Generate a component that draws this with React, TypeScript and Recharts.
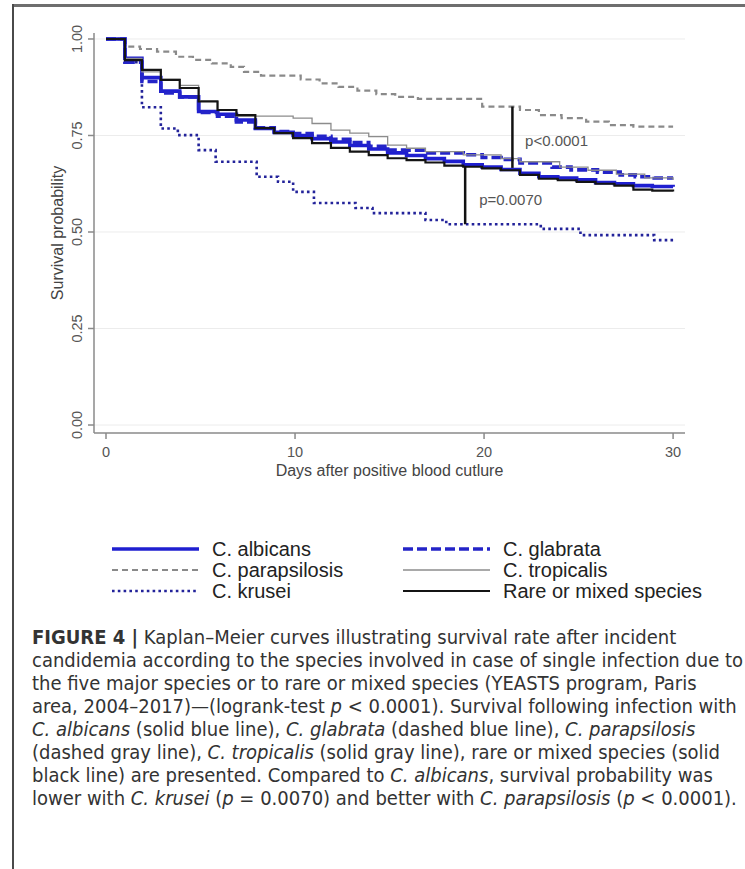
import { LineChart, Line, XAxis, YAxis, CartesianGrid, ReferenceLine, ReferenceDot, Label } from 'recharts';

// Kaplan-Meier steps: [day, survival after the step]
const albicans: [number, number][] = [
  [0, 1], [1, 0.95], [1.9, 0.9], [2.9, 0.865], [3.9, 0.85], [4.9, 0.812], [5.9, 0.805], [6.9, 0.79],
  [7.9, 0.768], [8.9, 0.758], [9.9, 0.75], [10.9, 0.742], [11.9, 0.733], [12.9, 0.724], [13.9, 0.715],
  [14.9, 0.705], [15.9, 0.698], [16.9, 0.69], [17.9, 0.683], [18.9, 0.674], [19.9, 0.668], [20.9, 0.662],
  [21.9, 0.652], [22.9, 0.643], [23.9, 0.64], [24.9, 0.635], [25.9, 0.628], [26.9, 0.625], [27.9, 0.62],
  [28.9, 0.618], [30, 0.617],
];
const glabrata: [number, number][] = [
  [0, 1], [1, 0.94], [1.9, 0.89], [2.9, 0.86], [3.9, 0.85], [4.9, 0.81], [5.9, 0.8], [6.9, 0.785],
  [7.9, 0.77], [8.9, 0.76], [9.9, 0.755], [10.9, 0.748], [11.9, 0.74], [12.9, 0.732], [13.9, 0.722],
  [14.9, 0.712], [16.9, 0.705], [18.9, 0.7], [19.9, 0.693], [20.9, 0.688], [21.9, 0.679], [23.6, 0.668],
  [24.6, 0.661], [26, 0.655], [27.2, 0.648], [28, 0.643], [29, 0.64], [30, 0.64],
];
const parapsilosis: [number, number][] = [
  [0, 1], [1, 0.98], [1.8, 0.974], [2.7, 0.967], [3.7, 0.954], [4.6, 0.946], [5.6, 0.937], [6.6, 0.928],
  [7.3, 0.915], [8.2, 0.905], [10.3, 0.895], [11.3, 0.885], [12.3, 0.876], [13.3, 0.866], [14.3, 0.857],
  [15.3, 0.85], [16.5, 0.845], [19.9, 0.825], [21.9, 0.816], [22.9, 0.803], [24.1, 0.795], [25.4, 0.786],
  [26.6, 0.777], [27.9, 0.773], [30, 0.773],
];
const tropicalis: [number, number][] = [
  [0, 1], [1, 0.95], [1.9, 0.915], [2.9, 0.895], [3.9, 0.88], [4.9, 0.84], [5.9, 0.815], [6.9, 0.8],
  [9.9, 0.795], [10.9, 0.781], [11.9, 0.764], [12.9, 0.756], [13.9, 0.747], [14.9, 0.725], [15.9, 0.717],
  [16.9, 0.708], [18.9, 0.7], [20.9, 0.69], [21.9, 0.682], [24, 0.668], [25.5, 0.66], [27, 0.65],
  [28.5, 0.64], [30, 0.635],
];
const krusei: [number, number][] = [
  [0, 1], [1, 0.94], [1.9, 0.823], [2.9, 0.768], [3.8, 0.751], [4.9, 0.712], [5.8, 0.682], [7.97, 0.643],
  [9.1, 0.63], [9.9, 0.604], [11, 0.575], [13.2, 0.562], [14.1, 0.549], [16.9, 0.531], [18, 0.52],
  [23, 0.508], [25.1, 0.492], [29, 0.479], [30, 0.479],
];
const rare: [number, number][] = [
  [0, 1], [1, 0.945], [1.9, 0.92], [2.9, 0.894], [3.9, 0.873], [4.9, 0.838], [5.9, 0.816], [6.9, 0.803],
  [7.9, 0.769], [8.9, 0.756], [9.9, 0.743], [10.9, 0.73], [11.9, 0.718], [12.9, 0.708], [13.9, 0.699],
  [14.9, 0.691], [15.9, 0.686], [16.9, 0.68], [17.9, 0.672], [18.9, 0.669], [19.9, 0.665], [20.9, 0.66],
  [21.9, 0.648], [22.9, 0.638], [23.9, 0.634], [24.9, 0.63], [25.9, 0.625], [26.9, 0.62], [27.9, 0.61],
  [28.9, 0.607], [30, 0.605],
];

const xTicks = [0, 10, 20, 30];
const yTicks = [0, 0.25, 0.5, 0.75, 1];

const pts = (arr: [number, number][]) => arr.map(([t, s]) => ({ t, s }));

const series = [
  { name: 'C. parapsilosis', data: parapsilosis, stroke: '#8a8a8a', width: 2.2, dash: '6 4' },
  { name: 'C. krusei', data: krusei, stroke: '#23239a', width: 2.6, dash: '2.6 3.2' },
  { name: 'C. albicans', data: albicans, stroke: '#1f1fd0', width: 3.6, dash: undefined },
  { name: 'C. glabrata', data: glabrata, stroke: '#2424c8', width: 3.6, dash: '10 4' },
  { name: 'C. tropicalis', data: tropicalis, stroke: '#8c8c8c', width: 1.3, dash: undefined },
  { name: 'Rare or mixed species', data: rare, stroke: '#141414', width: 2.2, dash: undefined },
];

const legendRows = [
  ['C. albicans', 'C. glabrata'],
  ['C. parapsilosis', 'C. tropicalis'],
  ['C. krusei', 'Rare or mixed species'],
];

const font = 'Arial, "Liberation Sans", Helvetica, sans-serif';

const YTick = (props: any) => {
  const { x, y, payload } = props;
  return (
    <text transform={`translate(${x - 9}, ${y}) rotate(-90)`} textAnchor='middle' dominantBaseline='central'
      fontSize={14.5} fill='#555' fontFamily={font}>
      {payload.value.toFixed(2)}
    </text>
  );
};

const XTick = (props: any) => {
  const { x, y, payload } = props;
  return (
    <text x={x} y={y + 11} textAnchor='middle' dominantBaseline='central' fontSize={14.5} fill='#555' fontFamily={font}>
      {payload.value}
    </text>
  );
};

const Sample = ({ s }: { s: (typeof series)[number] }) => (
  <svg width={87} height={10} style={{ display: 'block' }}>
    <line x1={0} y1={5} x2={87} y2={5} stroke={s.stroke} strokeWidth={s.width} strokeDasharray={s.dash} />
  </svg>
);

const Caption = () => {
  const lineStyle: React.CSSProperties = { whiteSpace: 'nowrap', height: 23, lineHeight: '23px' };
  return (
    <div style={{ position: 'absolute', left: 32, top: 626, fontFamily: '"Liberation Sans Narrow", "DejaVu Sans Condensed", Arial, sans-serif', fontSize: 20, color: '#333' }}>
      <div style={lineStyle}><b>FIGURE 4 |</b> Kaplan–Meier curves illustrating survival rate after incident</div>
      <div style={lineStyle}>candidemia according to the species involved in case of single infection due to</div>
      <div style={lineStyle}>the five major species or to rare or mixed species (YEASTS program, Paris</div>
      <div style={lineStyle}>area, 2004–2017)—(logrank-test <i>p</i> &lt; 0.0001). Survival following infection with</div>
      <div style={lineStyle}><i>C. albicans</i> (solid blue line), <i>C. glabrata</i> (dashed blue line), <i>C. parapsilosis</i></div>
      <div style={lineStyle}>(dashed gray line), <i>C. tropicalis</i> (solid gray line), rare or mixed species (solid</div>
      <div style={lineStyle}>black line) are presented. Compared to <i>C. albicans</i>, survival probability was</div>
      <div style={lineStyle}>lower with <i>C. krusei</i> (<i>p</i> = 0.0070) and better with <i>C. parapsilosis</i> (<i>p</i> &lt; 0.0001).</div>
    </div>
  );
};

export default function App() {
  const byName = (n: string) => series.find((s) => s.name === n)!;
  return (
    <div style={{ position: 'absolute', left: 0, top: 0, width: 745, height: 869, background: '#fff', overflow: 'hidden', fontFamily: font }}>
      <div style={{ position: 'absolute', left: 12, top: 4, width: 733, height: 3, background: '#6e6e6e' }} />
      <div style={{ position: 'absolute', left: 12, top: 4, width: 2, height: 865, background: '#4a4a4a' }} />

      <div style={{ position: 'absolute', left: 0, top: 0 }}>
        <LineChart width={745} height={500} margin={{ top: 33, right: 60, bottom: 0, left: 0 }}>
          <CartesianGrid horizontal vertical={false} stroke='#ececec' horizontalValues={yTicks} />
          <XAxis type='number' dataKey='t' domain={[-0.635, 30.63]} ticks={xTicks} allowDataOverflow
            height={67} stroke='#8a8a8a' strokeWidth={1.5} tickSize={6} tick={<XTick />} interval={0}>
            <Label content={(p: any) => (
              <text x={p.viewBox.x + 12 + 567 / 2} y={470} textAnchor='middle' dominantBaseline='central'
                fontSize={16} fill='#444' fontFamily={font}>Days after positive blood cutlure</text>
            )} />
          </XAxis>
          <YAxis type='number' dataKey='s' domain={[-0.0207, 1.0155]} ticks={yTicks} allowDataOverflow
            width={94} stroke='#8a8a8a' strokeWidth={1.5} tickSize={6} tick={<YTick />} interval={0}>
            <Label content={(p: any) => (
              <text transform={`translate(57, ${p.viewBox.y + p.viewBox.height / 2}) rotate(-90)`} textAnchor='middle'
                dominantBaseline='central' fontSize={16} fill='#444' fontFamily={font}>Survival probability</text>
            )} />
          </YAxis>
          {series.map((s) => (
            <Line key={s.name} data={pts(s.data)} dataKey='s' type='stepAfter' stroke={s.stroke} strokeWidth={s.width}
              strokeDasharray={s.dash} dot={false} activeDot={false} isAnimationActive={false} />
          ))}
          <ReferenceLine segment={[{ x: 21.5, y: 0.825 }, { x: 21.5, y: 0.666 }]} stroke='#111' strokeWidth={2.5} ifOverflow='visible' />
          <ReferenceLine segment={[{ x: 19, y: 0.669 }, { x: 19, y: 0.52 }]} stroke='#111' strokeWidth={2.5} ifOverflow='visible' />
          <ReferenceDot x={22.17} y={0.737} r={0} stroke='none' fill='none'
            label={{ value: 'p<0.0001', position: 'right', offset: 0, fontSize: 15, fill: '#555', fontFamily: font }} />
          <ReferenceDot x={19.74} y={0.583} r={0} stroke='none' fill='none'
            label={{ value: 'p=0.0070', position: 'right', offset: 0, fontSize: 15, fill: '#555', fontFamily: font }} />
        </LineChart>
      </div>

      <div style={{ position: 'absolute', left: 112, top: 538, fontSize: 20, lineHeight: '20px', color: '#222' }}>
        {legendRows.map((row, i) => (
          <div key={i} style={{ display: 'flex', alignItems: 'center', height: 21 }}>
            {row.map((n, j) => (
              <div key={n} style={{ display: 'flex', alignItems: 'center', width: j === 0 ? 291 : 340 }}>
                <Sample s={byName(n)} />
                <span style={{ marginLeft: 13, whiteSpace: 'nowrap', lineHeight: '20px' }}>{n}</span>
              </div>
            ))}
          </div>
        ))}
      </div>

      <Caption />
    </div>
  );
}
